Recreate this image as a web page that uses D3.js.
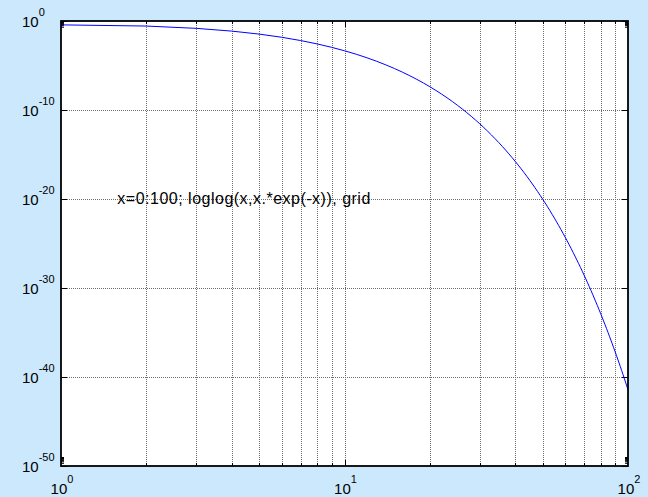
<!DOCTYPE html>
<html>
<head>
<meta charset="utf-8">
<script src="https://cdn.jsdelivr.net/npm/d3@7/dist/d3.min.js"></script>
<style>
  html, body { margin: 0; padding: 0; background: #cce8fc; }
  svg { display: block; }
  text { font-family: "Liberation Sans", Arial, sans-serif; fill: #000; }
</style>
</head>
<body>
<svg id="chart" width="648" height="497"></svg>
<script>
// x = 0:100 (x = 0 cannot be shown on a log axis)
const xValues = [
  1, 2, 3, 4, 5, 6, 7, 8, 9, 10,
  11, 12, 13, 14, 15, 16, 17, 18, 19, 20,
  21, 22, 23, 24, 25, 26, 27, 28, 29, 30,
  31, 32, 33, 34, 35, 36, 37, 38, 39, 40,
  41, 42, 43, 44, 45, 46, 47, 48, 49, 50,
  51, 52, 53, 54, 55, 56, 57, 58, 59, 60,
  61, 62, 63, 64, 65, 66, 67, 68, 69, 70,
  71, 72, 73, 74, 75, 76, 77, 78, 79, 80,
  81, 82, 83, 84, 85, 86, 87, 88, 89, 90,
  91, 92, 93, 94, 95, 96, 97, 98, 99, 100
];

// x.*exp(-x)
const yValues = [
  3.68e-1, 2.71e-1, 1.49e-1, 7.33e-2, 3.37e-2, 1.49e-2, 6.38e-3, 2.68e-3, 1.11e-3, 4.54e-4,
  1.84e-4, 7.37e-5, 2.94e-5, 1.16e-5, 4.59e-6, 1.80e-6, 7.04e-7, 2.74e-7, 1.06e-7, 4.12e-8,
  1.59e-8, 6.14e-9, 2.36e-9, 9.06e-10, 3.47e-10, 1.33e-10, 5.08e-11, 1.94e-11, 7.38e-12, 2.81e-12,
  1.07e-12, 4.05e-13, 1.54e-13, 5.83e-14, 2.21e-14, 8.35e-15, 3.16e-15, 1.19e-15, 4.50e-16, 1.70e-16,
  6.41e-17, 2.41e-17, 9.09e-18, 3.42e-18, 1.29e-18, 4.84e-19, 1.82e-19, 6.84e-20, 2.57e-20, 9.64e-21,
  3.62e-21, 1.36e-21, 5.09e-22, 1.91e-22, 7.15e-23, 2.68e-23, 1.00e-23, 3.75e-24, 1.40e-24, 5.25e-25,
  1.97e-25, 7.35e-26, 2.75e-26, 1.03e-26, 3.84e-27, 1.43e-27, 5.35e-28, 2.00e-28, 7.46e-29, 2.78e-29,
  1.04e-29, 3.87e-30, 1.44e-30, 5.39e-31, 2.01e-31, 7.49e-32, 2.79e-32, 1.04e-32, 3.88e-33, 1.44e-33,
  5.38e-34, 2.00e-34, 7.46e-35, 2.78e-35, 1.03e-35, 3.85e-36, 1.43e-36, 5.33e-37, 1.98e-37, 7.38e-38,
  2.74e-38, 1.02e-38, 3.79e-39, 1.41e-39, 5.24e-40, 1.95e-40, 7.25e-41, 2.69e-41, 1.00e-41, 3.72e-42
];

// Axis ticks: decade exponents shown as 10^k
const xTickExponents = [0, 1, 2];
const yTickExponents = [0, -10, -20, -30, -40, -50];
const xGridValues = [2, 3, 4, 5, 6, 7, 8, 9, 10, 20, 30, 40, 50, 60, 70, 80, 90];
const yGridValues = [1e-10, 1e-20, 1e-30, 1e-40];
const yMinorTicks = [2e-50, 3e-50, 4e-50, 5e-50, 6e-50, 7e-50, 8e-50, 9e-50,
                     2e-1, 3e-1, 4e-1, 5e-1, 6e-1, 7e-1, 8e-1, 9e-1];
const annotation = "x=0:100; loglog(x,x.*exp(-x)), grid";

const box = { left: 61, top: 21, right: 628, bottom: 466 };

const svg = d3.select("#chart");

const x = d3.scaleLog().domain([1, 100]).range([box.left, box.right]);
const y = d3.scaleLog().domain([1e-50, 1]).range([box.bottom, box.top]);

// plot area
svg.append("rect")
  .attr("x", box.left).attr("y", box.top)
  .attr("width", box.right - box.left).attr("height", box.bottom - box.top)
  .attr("fill", "#fff");

// dotted grid
const grid = svg.append("g")
  .attr("stroke", "#6e6e6e")
  .attr("stroke-width", 1)
  .attr("stroke-dasharray", "1,1");
grid.selectAll("line.gx").data(xGridValues).join("line")
  .attr("class", "gx")
  .attr("x1", d => Math.round(x(d)) + 0.5).attr("x2", d => Math.round(x(d)) + 0.5)
  .attr("y1", box.top).attr("y2", box.bottom);
grid.selectAll("line.gy").data(yGridValues).join("line")
  .attr("class", "gy")
  .attr("x1", box.left).attr("x2", box.right)
  .attr("y1", d => Math.round(y(d)) + 0.5).attr("y2", d => Math.round(y(d)) + 0.5);

// tick marks on all four sides (pointing inward)
const ticks = svg.append("g").attr("stroke", "#000").attr("stroke-width", 1);
const xAllTicks = [2, 3, 4, 5, 6, 7, 8, 9, 10, 20, 30, 40, 50, 60, 70, 80, 90];
ticks.selectAll("line.tb").data(xAllTicks).join("line")
  .attr("class", "tb")
  .attr("x1", d => Math.round(x(d)) + 0.5).attr("x2", d => Math.round(x(d)) + 0.5)
  .attr("y1", box.bottom).attr("y2", d => box.bottom - (d === 10 ? 6 : 3));
ticks.selectAll("line.tt").data(xAllTicks).join("line")
  .attr("class", "tt")
  .attr("x1", d => Math.round(x(d)) + 0.5).attr("x2", d => Math.round(x(d)) + 0.5)
  .attr("y1", box.top).attr("y2", d => box.top + (d === 10 ? 6 : 3));
const yMajor = yTickExponents.map(k => Math.pow(10, k));
ticks.selectAll("line.tl").data(yMajor).join("line")
  .attr("class", "tl")
  .attr("x1", box.left).attr("x2", box.left + 6)
  .attr("y1", d => Math.round(y(d)) + 0.5).attr("y2", d => Math.round(y(d)) + 0.5);
ticks.selectAll("line.tr").data(yMajor).join("line")
  .attr("class", "tr")
  .attr("x1", box.right).attr("x2", box.right - 6)
  .attr("y1", d => Math.round(y(d)) + 0.5).attr("y2", d => Math.round(y(d)) + 0.5);
ticks.selectAll("line.ml").data(yMinorTicks).join("line")
  .attr("class", "ml")
  .attr("x1", box.left).attr("x2", box.left + 3)
  .attr("y1", d => y(d)).attr("y2", d => y(d));
ticks.selectAll("line.mr").data(yMinorTicks).join("line")
  .attr("class", "mr")
  .attr("x1", box.right).attr("x2", box.right - 3)
  .attr("y1", d => y(d)).attr("y2", d => y(d));

// the curve
const line = d3.line()
  .x((d, i) => x(xValues[i]))
  .y(d => y(d));
svg.append("path")
  .datum(yValues)
  .attr("d", line)
  .attr("fill", "none")
  .attr("stroke", "#0000ff")
  .attr("stroke-width", 1);

// axes box
svg.append("rect")
  .attr("x", box.left).attr("y", box.top)
  .attr("width", box.right - box.left).attr("height", box.bottom - box.top)
  .attr("fill", "none")
  .attr("stroke", "#000")
  .attr("stroke-width", 1.8);

// x tick labels: 10^k centred under each decade
const xl = svg.append("g").attr("font-size", 15).attr("text-anchor", "middle");
xTickExponents.forEach(k => {
  const t = xl.append("text")
    .attr("x", x(Math.pow(10, k)) + 1)
    .attr("y", box.bottom + 28);
  t.append("tspan").text("10");
  t.append("tspan").attr("font-size", 11).attr("dy", -11).text(String(k));
});

// y tick labels: 10^k, left edge aligned
const yl = svg.append("g").attr("font-size", 15).attr("text-anchor", "start");
yTickExponents.forEach(k => {
  const t = yl.append("text")
    .attr("x", box.left - 39)
    .attr("y", y(Math.pow(10, k)) + 6);
  t.append("tspan").text("10");
  t.append("tspan").attr("font-size", 11).attr("dy", -11).text(String(k));
});

// annotation text placed in data coordinates
svg.append("text")
  .attr("x", x(1.58))
  .attr("y", y(1e-20) + 5)
  .attr("font-size", 16)
  .attr("textLength", 253)
  .attr("lengthAdjust", "spacing")
  .text(annotation);
</script>
</body>
</html>
